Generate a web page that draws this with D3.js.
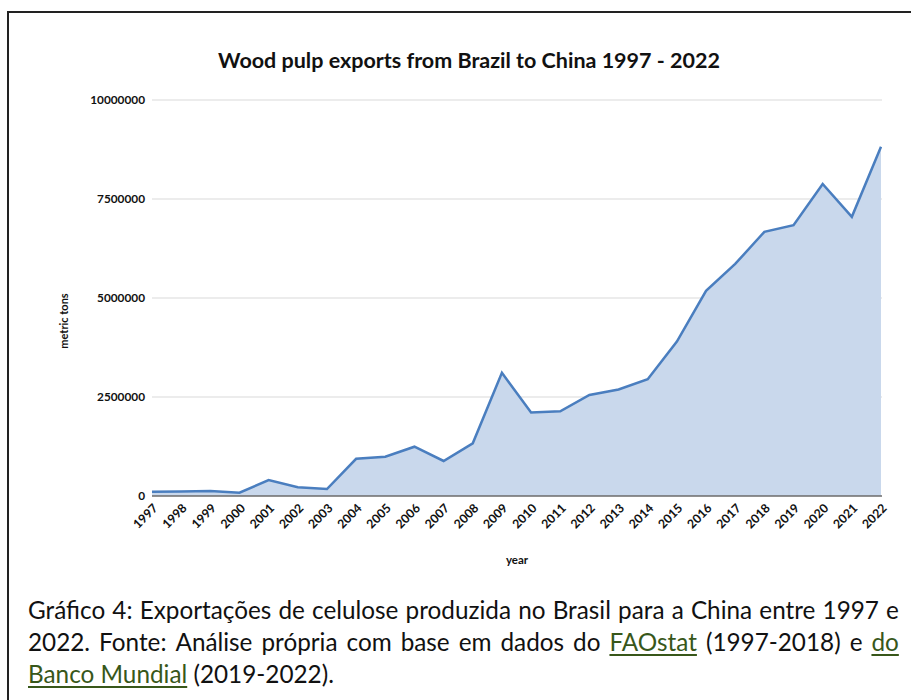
<!DOCTYPE html>
<html>
<head>
<meta charset="utf-8">
<script src="https://cdn.jsdelivr.net/npm/d3@7/dist/d3.min.js"></script>
<style>
  html, body { margin: 0; padding: 0; background: #fff; }
  body { width: 911px; height: 700px; overflow: hidden; position: relative; }
  #frame { position: absolute; left: 7px; top: 11px; width: 940px; height: 740px; border: 2px solid #222; box-sizing: border-box; }
  #caption { position: absolute; left: 28px; top: 594px; width: 871px; font-family: Lato, "Open Sans", sans-serif; font-size: 24.3px; color: #111; line-height: 32px; }
  #caption .j { white-space: nowrap; display: flex; justify-content: space-between; }
  #caption a { color: #38571a; text-decoration: underline; text-underline-offset: 3px; }
  svg { position: absolute; left: 0; top: 0; }
</style>
</head>
<body>
<div id="frame"></div>
<svg id="chart" width="911" height="590"></svg>
<div id="caption"></div>
<script>
const years = ["1997","1998","1999","2000","2001","2002","2003","2004","2005","2006","2007","2008","2009","2010","2011","2012","2013","2014","2015","2016","2017","2018","2019","2020","2021","2022"];
const exportsTons = [110000,115000,125000,85000,400000,220000,175000,940000,990000,1245000,885000,1330000,3110000,2110000,2140000,2550000,2690000,2950000,3900000,5180000,5860000,6670000,6840000,7880000,7050000,8820000];
const yTicks = [0,2500000,5000000,7500000,10000000];
const titleText = "Wood pulp exports from Brazil to China 1997 - 2022";
const yTitle = "metric tons";
const xTitle = "year";
const captionLines = [
  ["Gráfico 4: Exportações de celulose produzida no Brasil para a China entre 1997 e"],
  ["2022. Fonte: Análise própria com base em dados do ", {link:"FAOstat"}, " (1997-2018) e ", {link:"do"}],
  [{link:"Banco Mundial"}, " (2019-2022)."]
];

(function () {
const svg = d3.select("#chart");
const font = "Lato, 'Open Sans', sans-serif";
const pLeft = 152, pRight = 881, pTop = 100, pBottom = 496;

const x = d3.scalePoint().domain(years).range([pLeft, pRight]);
const y = d3.scaleLinear().domain([0, 10000000]).range([pBottom, pTop]);

// gridlines
svg.append("g").selectAll("line").data(yTicks.filter(d => d > 0)).join("line")
  .attr("x1", pLeft).attr("x2", pRight + 1)
  .attr("y1", d => y(d)).attr("y2", d => y(d))
  .attr("stroke", "#d9d9d9").attr("stroke-width", 1.2);

// area
const area = d3.area().x((d,i) => x(years[i])).y0(y(0)).y1(d => y(d));
svg.append("path").datum(exportsTons).attr("d", area).attr("fill", "#c9d8ec");

// x axis baseline
svg.append("line").attr("x1", pLeft).attr("x2", pRight + 1).attr("y1", y(0)).attr("y2", y(0))
  .attr("stroke", "#6b6b6b").attr("stroke-width", 1.5);

// line
const line = d3.line().x((d,i) => x(years[i])).y(d => y(d));
svg.append("path").datum(exportsTons).attr("d", line).attr("fill", "none")
  .attr("stroke", "#4a7ebf").attr("stroke-width", 2.5).attr("stroke-linejoin", "miter");

// y tick labels
const yAxis = d3.axisLeft(y).tickValues(yTicks).tickSize(0).tickPadding(7).tickFormat(d3.format("d"));
const gy = svg.append("g").attr("transform", `translate(${pLeft},0)`).call(yAxis);
gy.select(".domain").remove();
gy.selectAll("text").attr("font-family", font).attr("font-weight", "bold").attr("font-size", 11.8).attr("fill", "#111");

// x tick labels
const xAxis = d3.axisBottom(x).tickSize(0).tickPadding(0);
const gx = svg.append("g").attr("transform", `translate(0,${pBottom})`).call(xAxis);
gx.select(".domain").remove();
gx.selectAll("text")
  .attr("font-family", font).attr("font-weight", "bold").attr("font-size", 12.3).attr("fill", "#111")
  .attr("text-anchor", "end").attr("dy", null).attr("y", 0)
  .attr("transform", "translate(6,13) rotate(-45)");

// title
svg.append("text").attr("x", 469).attr("y", 68).attr("text-anchor", "middle")
  .attr("font-family", font).attr("font-weight", "bold").attr("font-size", 21.5).attr("fill", "#111")
  .text(titleText);

// axis titles
svg.append("text").attr("transform", "translate(68,321) rotate(-90)").attr("text-anchor", "middle")
  .attr("font-family", font).attr("font-weight", "bold").attr("font-size", 11).attr("fill", "#111")
  .text(yTitle);
svg.append("text").attr("x", 517).attr("y", 564).attr("text-anchor", "middle")
  .attr("font-family", font).attr("font-weight", "bold").attr("font-size", 11.5).attr("fill", "#111")
  .text(xTitle);

// caption (justified lines, words as flex items)
const cap = d3.select("#caption");
captionLines.forEach((parts, li) => {
  const div = cap.append("div");
  if (li < captionLines.length - 1) {
    div.attr("class", "j");
    parts.forEach(p => {
      if (typeof p === "string") {
        p.split(" ").filter(w => w.length).forEach(w => div.append("span").text(w));
      } else {
        div.append("a").attr("href", "#").text(p.link);
      }
    });
  } else {
    parts.forEach(p => {
      if (typeof p === "string") div.append("span").text(p);
      else div.append("a").attr("href", "#").text(p.link);
    });
  }
});
})();
</script>
</body>
</html>
